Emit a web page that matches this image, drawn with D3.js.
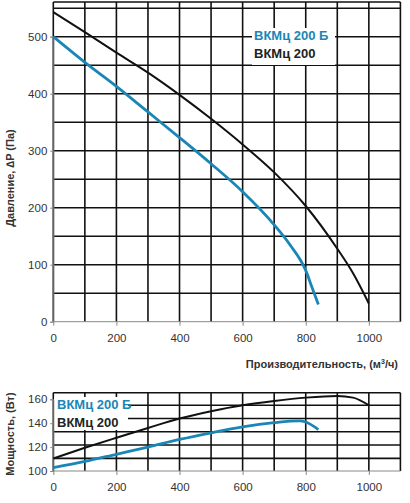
<!DOCTYPE html>
<html><head><meta charset="utf-8">
<script src="https://cdn.jsdelivr.net/npm/d3@7"></script>
<style>body{margin:0;background:#fff}text{font-family:"Liberation Sans",Arial,sans-serif}</style>
</head><body><svg id="c" width="410" height="503"></svg>
<script>
const xTicks=[0,200,400,600,800,1000];
const xGrid=[0,100,200,300,400,500,600,700,800,900,1000,1100];
const pTicks=[0,100,200,300,400,500];
const pGrid=[50,100,150,200,250,300,350,400,450,500,550];
const wTicks=[100,120,140,160];
const wGrid=[110.6,121.7,132.8,143.9,155];
const pBlackX=[0,100,200,300,400,500,600,700,800,900,950,1000];
const pBlackY=[543,508,472,437,398,356,311,262,203,128,85,32];
const pBlueX=[0,100,200,300,400,500,600,700,750,800,820,840];
const pBlueY=[500,455,413,368,323,277,228,170,135,90,60,30];
const wBlackX=[0,100,200,300,400,500,600,700,800,900,950,1000];
const wBlackY=[110.5,119.4,127.8,136,143.9,150,155,158.6,161.4,162.8,161.4,155];
const wBlueX=[0,100,200,300,400,500,600,700,780,800,840];
const wBlueY=[102.8,108,114,120,126.4,132,137,140.5,142,141,134.7];
const names=["ВКМц 200 Б","ВКМц 200"];
const blue="#1a86b5";
const svg=d3.select("#c");
const x=d3.scaleLinear().domain([0,1100]).range([53.3,400.4]);
function panel(y,yTicks,yGrid,yTop,yBot,series,legend){
  const g=svg.append("g");
  g.selectAll(".v").data(xGrid).join("line").attr("x1",x).attr("x2",x).attr("y1",y(yTop)).attr("y2",y(yBot)).attr("stroke","#111").attr("stroke-width",1.6);
  g.selectAll(".h").data(yGrid).join("line").attr("x1",x(0)).attr("x2",x(1100)).attr("y1",y).attr("y2",y).attr("stroke","#111").attr("stroke-width",1.6);
  g.append("line").attr("x1",x(0)).attr("x2",x(1100)).attr("y1",y(yTop)).attr("y2",y(yTop)).attr("stroke","#111").attr("stroke-width",1.6);
  g.append("line").attr("x1",x(0)).attr("x2",x(1100)).attr("y1",y(yBot)).attr("y2",y(yBot)).attr("stroke","#888").attr("stroke-width",1);
  g.append("rect").attr("x",legend[0]).attr("y",legend[1]).attr("width",legend[2]).attr("height",legend[3]).attr("fill","#fff");
  const ya=d3.axisLeft(y).tickValues(yTicks).tickSize(3).tickPadding(3);
  g.append("g").attr("transform",`translate(${x(0)},0)`).call(ya).call(a=>{a.select(".domain").attr("stroke","#888");a.selectAll("line").attr("stroke","#888");a.selectAll("text").attr("font-size",11.5).attr("fill","#333");});
  const xa=d3.axisBottom(x).tickValues(xTicks).tickSize(4).tickPadding(8).tickFormat(d3.format("d"));
  g.append("g").attr("transform",`translate(0,${y(yBot)})`).call(xa).call(a=>{a.select(".domain").remove();a.selectAll("line").attr("stroke","#888");a.selectAll("text").attr("font-size",11.5).attr("fill","#333");});
  const ln=d3.line().x(d=>x(d[0])).y(d=>y(d[1])).curve(d3.curveMonotoneX);
  series.forEach(s=>{
    g.append("path").attr("d",ln(d3.zip(s[0],s[1]))).attr("fill","none").attr("stroke",s[2]).attr("stroke-width",s[3]);
  });
  g.append("text").attr("x",legend[4]).attr("y",legend[5]).attr("font-size",13).attr("font-weight","bold").attr("fill",blue).text(names[0]);
  g.append("text").attr("x",legend[4]).attr("y",legend[5]+18).attr("font-size",13).attr("font-weight","bold").attr("fill","#222").text(names[1]);
}
const yP=d3.scaleLinear().domain([0,500]).range([321.7,36.7]);
panel(yP,pTicks,pGrid,561,0,[[pBlueX,pBlueY,blue,2.8],[pBlackX,pBlackY,"#111",2]],[252,28,83,37,254,40]);
const yW=d3.scaleLinear().domain([100,160]).range([471,399.3]);
panel(yW,wTicks,wGrid,165.5,100,[[wBlueX,wBlueY,blue,2.8],[wBlackX,wBlackY,"#111",2]],[54,397,74,33,57,409]);
svg.append("text").attr("transform","translate(14,178) rotate(-90)").attr("text-anchor","middle").attr("font-size",11).attr("font-weight","bold").attr("fill","#333").text("Давление, ∆P (Па)");
svg.append("text").attr("transform","translate(14,434) rotate(-90)").attr("text-anchor","middle").attr("font-size",11).attr("font-weight","bold").attr("fill","#333").text("Мощность, (Вт)");
const xl=svg.append("text").attr("x",398).attr("y",368).attr("text-anchor","end").attr("font-size",11).attr("font-weight","bold").attr("fill","#333");
xl.append("tspan").text("Производительность, (м");
xl.append("tspan").attr("font-size",7).attr("dy",-4).text("3");
xl.append("tspan").attr("dy",4).text("/ч)");
</script></body></html>
